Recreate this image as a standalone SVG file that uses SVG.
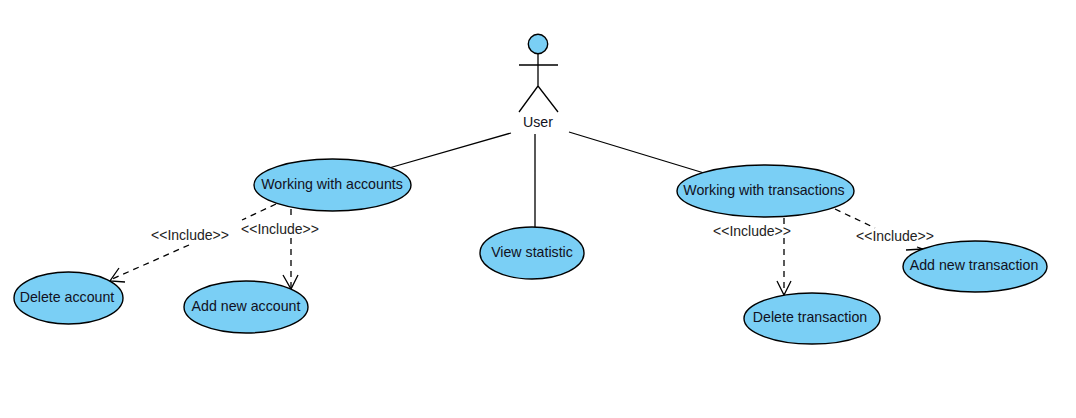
<svg xmlns="http://www.w3.org/2000/svg" width="1076" height="418" viewBox="0 0 1076 418">
<style>
text{font-family:"Liberation Sans",Arial,sans-serif;font-size:14.2px;fill:#112;text-anchor:middle}
.uc{fill:#7acff5;stroke:#000;stroke-width:1.4}
.ln{fill:none;stroke:#000;stroke-width:1.3}
.d{fill:none;stroke:#000;stroke-width:1.3;stroke-dasharray:6 5}
.lab{font-size:14px;fill:#222}
</style>
<rect width="1076" height="418" fill="#fff"/>
<g id="connectors">
<path class="ln" d="M511 133L389 168M535 134V228M569 132L704 173"/>
<path class="d" d="M276 204L242 220M189 245L110 280"/>
<path class="ln" d="M119 268L110 281L125 282"/>
<path class="d" d="M291 209V219M291 238V288"/>
<path class="ln" d="M283 275L291 289L298 275"/>
<path class="d" d="M835 209L875 228"/>
<path class="ln" d="M906 250L923 249L917 247"/>
<path class="d" d="M784 218V224M784 238V294"/>
<path class="ln" d="M777 281L784 295L791 281"/>
</g>
<g id="actor-user">
<circle class="uc" cx="538" cy="44" r="9.7"/>
<path class="ln" d="M538 54V86M519 65H558M538 86L519 112M538 86L558 112"/>
<text x="538" y="127">User</text>
</g>
<g id="uc-accounts"><ellipse class="uc" cx="332.5" cy="185" rx="78.5" ry="26"/><text x="332" y="189">Working with accounts</text></g>
<g id="uc-statistic"><ellipse class="uc" cx="532" cy="253" rx="52" ry="26"/><text x="532" y="257">View statistic</text></g>
<g id="uc-transactions"><ellipse class="uc" cx="765.5" cy="191" rx="88.5" ry="26"/><text x="764" y="195">Working with transactions</text></g>
<g id="uc-delete-account"><ellipse class="uc" cx="68.5" cy="298" rx="54.5" ry="26"/><text x="67" y="302">Delete account</text></g>
<g id="uc-add-account"><ellipse class="uc" cx="246" cy="307" rx="62" ry="26"/><text x="246" y="311">Add new account</text></g>
<g id="uc-delete-transaction"><ellipse class="uc" cx="812" cy="318.5" rx="68" ry="25.5"/><text x="810" y="322">Delete transaction</text></g>
<g id="uc-add-transaction"><ellipse class="uc" cx="975" cy="266.5" rx="72" ry="25.5"/><text x="974" y="270">Add new transaction</text></g>
<g id="labels">
<text class="lab" x="190" y="240">&lt;&lt;Include&gt;&gt;</text>
<text class="lab" x="280" y="234">&lt;&lt;Include&gt;&gt;</text>
<text class="lab" x="752" y="236">&lt;&lt;Include&gt;&gt;</text>
<text class="lab" x="895" y="241">&lt;&lt;Include&gt;&gt;</text>
</g>
</svg>
